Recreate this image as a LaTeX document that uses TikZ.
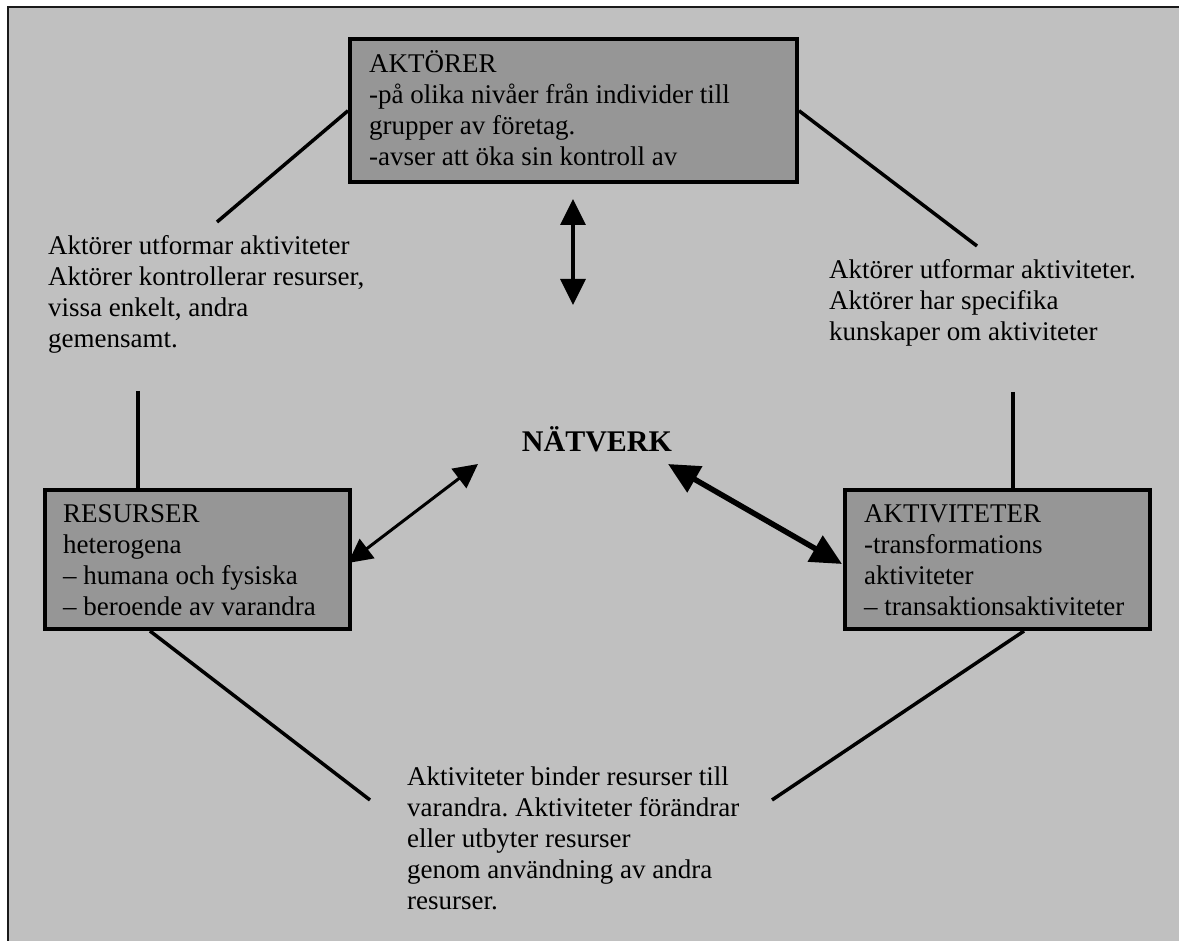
\documentclass[tikz,border=0pt]{standalone}
\usepackage{fontspec}
\setmainfont{Liberation Serif}
\usetikzlibrary{arrows.meta}
\definecolor{panel}{HTML}{C0C0C0}
\definecolor{boxfill}{HTML}{969696}
\definecolor{frameline}{HTML}{1A1A1A}
% multi-line text block whose baseline is the first line
\newcommand{\mlines}[1]{\begin{tabular}[t]{@{}l@{}}#1\end{tabular}}
\frenchspacing
\begin{document}
\begin{tikzpicture}[x=1pt,y=-1pt,
  txt/.style={anchor=base west,inner sep=0pt,font=\fontsize{27}{31}\selectfont\frenchspacing},
  infobox/.style={draw=black,line width=4pt,fill=boxfill,inner sep=0pt,anchor=north west},
  link/.style={line width=3.5pt},
  dbl/.style={line width=3.5pt,{Triangle[length=26pt,width=25pt]}-{Triangle[length=26pt,width=25pt]}},
  dblthin/.style={line width=3pt,{Triangle[length=24pt,width=24pt]}-{Triangle[length=24pt,width=24pt]}},
  dblthick/.style={line width=5.5pt,{Triangle[length=31pt,width=29pt]}-{Triangle[length=31pt,width=29pt]}}]

% page and panel
\useasboundingbox (0,0) rectangle (1179,941);
\fill[white] (0,0) rectangle (1179,941);
\fill[panel] (8,7) rectangle (1179,941);
\draw[frameline,line width=2pt] (8,941) -- (8,7) -- (1179,7);

% the three boxes
\node[infobox,minimum width=447pt,minimum height=143.5pt] (akt) at (348,37) {};
\node[infobox,minimum width=305pt,minimum height=139.5pt] (res) at (43,487.5) {};
\node[infobox,minimum width=305pt,minimum height=139.5pt] (act) at (843,487.5) {};

% box texts
\node[txt] (akttext) at (369,73) {\mlines{AKTÖRER\\-på olika nivåer från individer till\\grupper av företag.\\-avser att öka sin kontroll av}};
\node[txt] (restext) at (63,522) {\mlines{RESURSER\\heterogena\\– humana och fysiska\\– beroende av varandra}};
\node[txt] (acttext) at (864,522) {\mlines{AKTIVITETER\\-transformations\\aktiviteter\\– transaktionsaktiviteter}};

% centre label
\node[anchor=base,inner sep=0pt,font=\fontsize{30}{34}\selectfont\bfseries] (net) at (597,452) {NÄTVERK};

% relation texts
\node[txt] (ltext) at (48,255) {\mlines{Aktörer utformar aktiviteter\\Aktörer kontrollerar resurser,\\vissa enkelt, andra\\gemensamt.}};
\node[txt] (rtext) at (829,279) {\mlines{Aktörer utformar aktiviteter.\\Aktörer har specifika\\kunskaper om aktiviteter}};
\node[txt] (btext) at (407,785) {\mlines{Aktiviteter binder resurser till\\varandra. Aktiviteter förändrar\\eller utbyter resurser\\genom användning av andra\\resurser.}};

% connector end points
\coordinate (tlend) at (217,222);
\coordinate (trend) at (977,246);
\coordinate (lvtop) at (138,391);
\coordinate (rvtop) at (1013,392);
\coordinate (blend) at (370,800);
\coordinate (brend) at (772,800);
\coordinate (nettop) at (573,199);
\coordinate (netup) at (573,305);
\coordinate (netleft) at (478,464);
\coordinate (resarrow) at (348,563);
\coordinate (netright) at (668,464);
\coordinate (actarrow) at (842,564);

% plain connectors
\draw[link] (akt.west) -- (tlend);
\draw[link] (akt.east) -- (trend);
\draw[link] (lvtop) -- (lvtop |- res.north);
\draw[link] (rvtop) -- (rvtop |- act.north);
\draw[link] ([xshift=-47.5pt]res.south) -- (blend);
\draw[link] ([xshift=26.5pt]act.south) -- (brend);

% arrows round the network
\draw[dbl] (nettop) -- (netup);
\draw[dblthin] (netleft) -- (resarrow);
\draw[dblthick] (netright) -- (actarrow);
\end{tikzpicture}
\end{document}
